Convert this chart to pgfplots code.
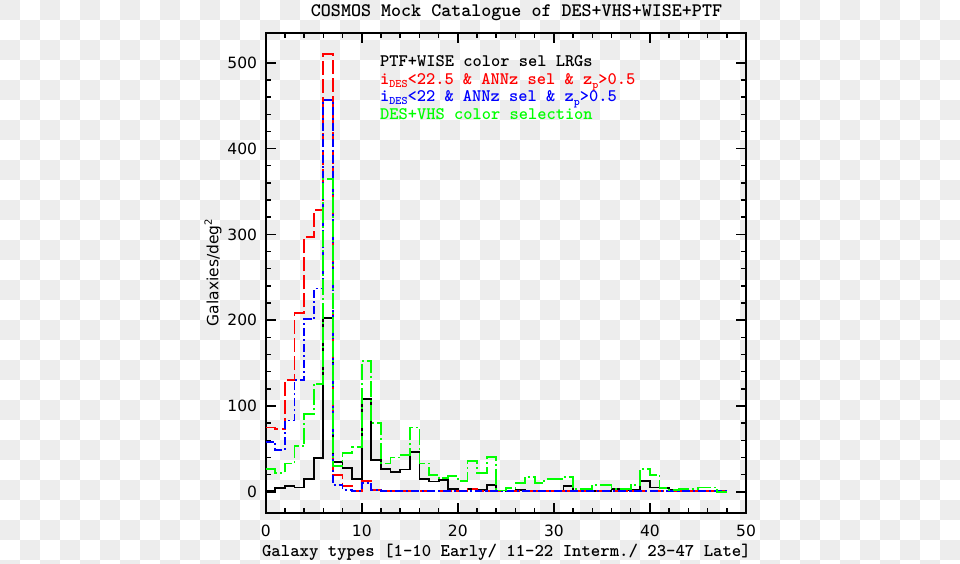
\documentclass[border=0pt]{standalone}
\usepackage{fontspec}
\newfontfamily\ticksans{DejaVu Sans}
\usepackage{pgfplots}
\pgfplotsset{compat=1.18}
\usepackage{pgfplotstable}

% bin i spans [i,i+1]
\pgfplotstableread{
x  black green red  blue
0  1     27    75   58
1  4     22    73   49
2  7     33    130  83
3  5     53    208  130
4  15    91    297  201
5  39    126   328  237
6  203   365   510  457
7  35    30    20   8
8  28    45    6.8  2
9  15    52    0.5  0.5
10 108   152   13   10.5
11 37    80    2    2.5
12 27    33    0.5  0.5
13 23    40    0.5  0.5
14 26    43    0.5  0.5
15 46    75    0.5  0.5
16 15    33    0.5  0.5
17 12    20    0.5  0.5
18 14    16    0.5  0.5
19 3.5   18    0.5  0.5
20 1.5   13    0.5  0.5
21 3.5   36    3    1
22 2     22    0.5  0.5
23 8     41    0.5  0.5
24 1.5   1.5   0.5  0.5
25 0.5   4     0.5  0.5
26 2.5   10.5  0.5  0.5
27 0.5   17.5  0.5  0.5
28 0.5   10.5  0.5  0.5
29 0.5   15    0.5  0.5
30 0.5   15    0.5  0.5
31 7     17.5  0.5  0.5
32 0.5   3     0.5  0.5
33 0.5   3     0.5  0.5
34 1     8     0.5  0.5
35 0.5   8     0.5  0.5
36 3     3     0.5  0.5
37 2     3     0.5  0.5
38 2     8     0.5  0.5
39 12.5  27    0.5  0.5
40 5     20    0.5  0.5
41 4     4     0.5  0.5
42 2     2     0.5  0.5
43 2     3     0.5  0.5
44 1     3     0.5  0.5
45 1     5     0.5  0.5
46 1     5     0.5  0.5
47 1     0     0.5  0.5
48 1     0     0.5  0.5
}\histdata

\definecolor{checkgray}{gray}{0.93}

\begin{document}
\begin{tikzpicture}
\path[use as bounding box] (0,0) rectangle (960pt,564pt);
\fill[white] (0,0) rectangle (960pt,564pt);
\begin{scope}
\clip (0,0) rectangle (960pt,564pt);
\foreach \i in {0,...,47}{
  \foreach \j in {0,...,28}{
    \pgfmathtruncatemacro{\cpar}{mod(\i+\j,2)}
    \ifnum\cpar=0
      \fill[checkgray] (\i*20pt,564pt-\j*20pt) rectangle ++(20pt,-20pt);
    \fi
  }
}
\end{scope}

\begin{axis}[
  at={(265.7pt,50.75pt)}, anchor=south west,
  scale only axis, width=480.3pt, height=480.5pt,
  xmin=0, xmax=50, ymin=-25, ymax=535,
  xtick={0,10,...,50}, minor x tick num=4,
  ytick={0,100,...,500}, minor y tick num=4,
  tick align=inside, xtick pos=both, ytick pos=both,
  major tick length=10pt, minor tick length=5pt,
  axis line style={line width=1.8pt},
  every tick/.style={black, line width=1.5pt},
  /pgf/number format/assume math mode=true,
  tick label style={font=\ticksans\fontsize{15.5}{15.5}\selectfont},
  xticklabel style={anchor=base, inner sep=0pt, yshift=-23.75pt},
  yticklabel style={anchor=east, inner sep=0pt, xshift=-8.5pt},
  clip=true,
]
\addplot[const plot, black, line width=1.8pt] table[x=x, y=black] {\histdata};
\addplot[const plot, red, line width=1.8pt, dash pattern=on 14pt off 4pt] table[x=x, y=red] {\histdata};
\addplot[const plot, blue, line width=1.8pt, dash pattern=on 8pt off 3pt on 2pt off 3pt] table[x=x, y=blue] {\histdata};
\addplot[const plot, green, line width=1.8pt, dash pattern=on 16pt off 3pt on 2pt off 3pt] table[x=x, y=green] {\histdata};
\end{axis}

% title and labels (pixel coords converted: y_tikz = 564 - y_px)
\node[anchor=base, inner sep=0pt, font=\ttfamily\bfseries\fontsize{19.1}{19.1}\selectfont] at (516.5pt,547.5pt) {COSMOS Mock Catalogue of DES+VHS+WISE+PTF};
\node[anchor=base, inner sep=0pt, font=\ttfamily\bfseries\fontsize{17.9}{17.9}\selectfont] at (506.4pt,7pt) {Galaxy types [1-10 Early/ 11-22 Interm./ 23-47 Late]};
\node[anchor=base, rotate=90, inner sep=0pt, font=\ticksans\fontsize{15.5}{15.5}\selectfont] at (218.3pt,291.5pt) {Galaxies/deg\raisebox{6.5pt}{\fontsize{10}{10}\selectfont 2}};

% legend texts
\node[anchor=base west, inner sep=0pt, font=\ttfamily\bfseries\fontsize{17.6}{17.6}\selectfont, black] at (380pt,497pt) {PTF+WISE color sel LRGs};
\node[anchor=base west, inner sep=0pt, font=\ttfamily\bfseries\fontsize{17.6}{17.6}\selectfont, red] at (380pt,479.5pt) {i\raisebox{-3pt}{\fontsize{11.5}{11.5}\selectfont DES}<22.5 \& ANNz sel \& z\raisebox{-4pt}{\fontsize{11.5}{11.5}\selectfont p}>0.5};
\node[anchor=base west, inner sep=0pt, font=\ttfamily\bfseries\fontsize{17.6}{17.6}\selectfont, blue] at (380pt,462pt) {i\raisebox{-3pt}{\fontsize{11.5}{11.5}\selectfont DES}<22 \& ANNz sel \& z\raisebox{-4pt}{\fontsize{11.5}{11.5}\selectfont p}>0.5};
\node[anchor=base west, inner sep=0pt, font=\ttfamily\bfseries\fontsize{17.6}{17.6}\selectfont, green] at (380pt,444.5pt) {DES+VHS color selection};
\end{tikzpicture}
\end{document}
